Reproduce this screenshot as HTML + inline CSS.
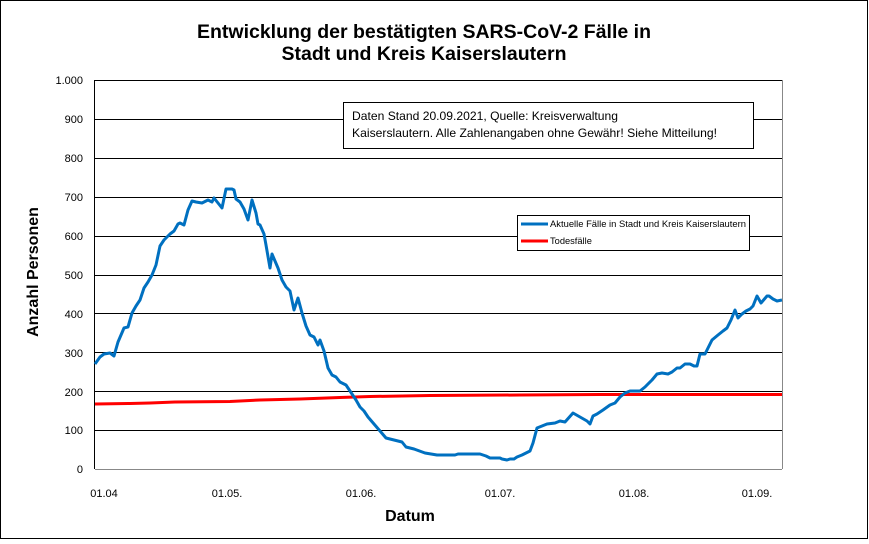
<!DOCTYPE html>
<html><head><meta charset="utf-8"><style>
body{margin:0;background:#fff}
svg{display:block;font-family:"Liberation Sans",Arial,sans-serif}
</style></head><body>
<svg width="869" height="544" xmlns="http://www.w3.org/2000/svg">
<rect x="0.5" y="0.5" width="867" height="538" fill="#fff" stroke="#000"/>
<text x="424" y="38" font-size="19.5" font-weight="bold" text-anchor="middle">Entwicklung der bestätigten SARS-CoV-2 Fälle in</text>
<text x="424" y="60" font-size="19.5" font-weight="bold" text-anchor="middle">Stadt und Kreis Kaiserslautern</text>
<g stroke="#000" stroke-width="1">
<line x1="95" x2="782" y1="80.5" y2="80.5"/><line x1="95" x2="782" y1="119.5" y2="119.5"/>
<line x1="95" x2="782" y1="158.5" y2="158.5"/><line x1="95" x2="782" y1="197.5" y2="197.5"/>
<line x1="95" x2="782" y1="236.5" y2="236.5"/><line x1="95" x2="782" y1="275.5" y2="275.5"/>
<line x1="95" x2="782" y1="313.5" y2="313.5"/><line x1="95" x2="782" y1="352.5" y2="352.5"/>
<line x1="95" x2="782" y1="391.5" y2="391.5"/><line x1="95" x2="782" y1="430.5" y2="430.5"/>
<line x1="94.5" x2="94.5" y1="80" y2="469"/>
</g>
<line x1="95" x2="782" y1="469.5" y2="469.5" stroke="#888"/>
<line x1="782.5" x2="782.5" y1="80" y2="469" stroke="#888"/>
<g font-size="11" text-anchor="end">
<text x="83" y="84">1.000</text><text x="83" y="123">900</text><text x="83" y="162">800</text>
<text x="83" y="201">700</text><text x="83" y="240">600</text><text x="83" y="279">500</text>
<text x="83" y="318">400</text><text x="83" y="357">300</text><text x="83" y="396">200</text>
<text x="83" y="434">100</text><text x="83" y="473">0</text>
</g>
<g font-size="11" text-anchor="middle">
<text x="104" y="497">01.04</text><text x="227" y="497">01.05.</text><text x="361" y="497">01.06.</text>
<text x="500" y="497">01.07.</text><text x="634" y="497">01.08.</text><text x="757" y="497">01.09.</text>
</g>
<text x="410" y="521" font-size="16" font-weight="bold" text-anchor="middle">Datum</text>
<text transform="translate(38,272) rotate(-90)" font-size="16" font-weight="bold" text-anchor="middle">Anzahl Personen</text>
<polyline fill="none" stroke="#f00" stroke-width="3" points="95,404 130,403.5 150,403 175,402 230,401.5 260,400 300,399 340,397.5 370,396.5 430,395.5 520,395 600,394.5 782,394.5"/>
<polyline fill="none" stroke="#0070c0" stroke-width="3" stroke-linejoin="round" points="95,364 100,357 104,354 110,353 114,356 118,342 124,328 128,327 132,313 136,306 140,300 144,288 148,282 152,275 156,265 160,246 164,240 170,234 174,231 178,224 180,223 184,225 188,210 192,201 196,202 202,203 206,201 208,200 212,202 214,198 218,203 222,208 226,189 232,189 234,190 236,199 240,202 244,209 248,220 250,210 252,200 256,213 258,224 260,225 264,234 266,245 270,268 272,254 278,268 282,280 286,287 290,291 294,310 298,298 302,313 306,326 310,335 314,337 318,345 320,340 324,351 328,368 332,375 336,377 340,382 346,385 356,400 360,407 364,411 368,417 380,431 386,438 398,441 402,442 406,447 414,449 425,453 437,455 455,455 458,454 480,454 486,456 490,458 500,458 502,459 507,460 510,459 514,459 517,457 522,455 528,452 530,451 533,443 537,428 542,426 547,424 555,423 560,421 565,422 573,413 580,417 587,421 590,424 593,416 597,414 603,410 610,405 615,403 620,397 625,393 630,391 637,391 640,391 645,387 652,380 657,374 662,373 668,374 672,372 677,368 680,368 685,364 690,364 694,366 697,366 700,354 705,354 712,340 718,335 723,331 727,328 731,320 735,310 738,318 742,314 746,311 750,309 753,306 757,296 761,303 767,296 769,296 773,299 777,301 782,300"/>
<rect x="343.5" y="102.5" width="410" height="46" fill="#fff" stroke="#000"/>
<text x="352" y="120" font-size="12" textLength="266" lengthAdjust="spacingAndGlyphs">Daten Stand 20.09.2021, Quelle: Kreisverwaltung</text>
<text x="352" y="137" font-size="12" textLength="365" lengthAdjust="spacingAndGlyphs">Kaiserslautern. Alle Zahlenangaben ohne Gewähr! Siehe Mitteilung!</text>
<rect x="517.5" y="215.5" width="232" height="35" fill="#fff" stroke="#000"/>
<line x1="521" x2="548" y1="224" y2="224" stroke="#0070c0" stroke-width="3"/>
<text x="550" y="227" font-size="9.3" textLength="196" lengthAdjust="spacingAndGlyphs">Aktuelle Fälle in Stadt und Kreis Kaiserslautern</text>
<line x1="521" x2="548" y1="241" y2="241" stroke="#f00" stroke-width="3"/>
<text x="550" y="244" font-size="9.3">Todesfälle</text>
</svg>
</body></html>
